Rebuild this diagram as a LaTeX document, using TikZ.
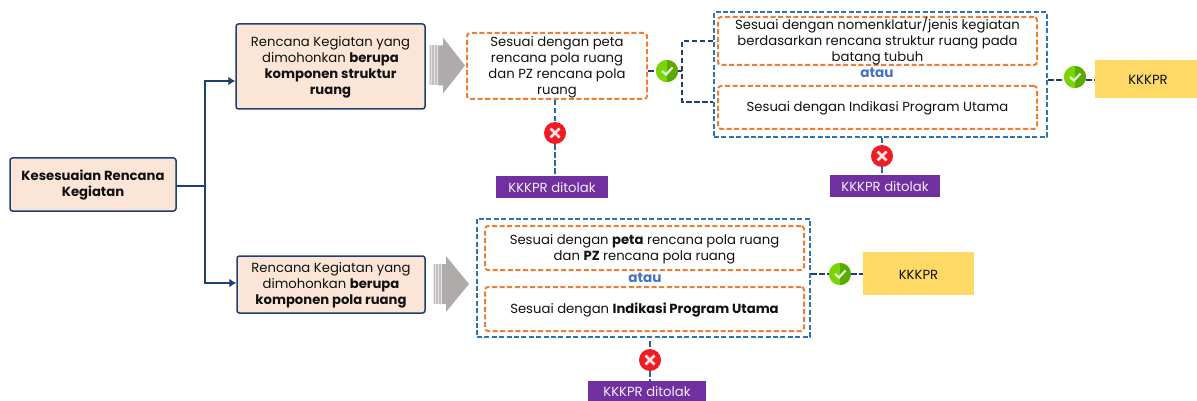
\documentclass[tikz,border=0pt]{standalone}
\usepackage{fontspec}
\setmainfont{Poppins}
\usetikzlibrary{arrows.meta}
\definecolor{navy}{HTML}{1F3F73}
\definecolor{peach}{HTML}{FBE5D6}
\definecolor{orangeD}{HTML}{ED7D31}
\definecolor{blueD}{HTML}{2E75B6}
\definecolor{blueL}{HTML}{4472C4}
\definecolor{purp}{HTML}{7030A0}
\definecolor{gold}{HTML}{FFD966}
\definecolor{grayA}{HTML}{AFABAB}
\definecolor{txt}{HTML}{111111}
\newcommand{\T}{\rule{0pt}{12pt}}
\tikzset{
  x=1pt,y=-1pt,
  base/.style={inner sep=0pt,align=center,text=txt,font=\fontsize{13.2}{16}\selectfont},
  solidbox/.style={base,draw=navy,line width=1.5pt,fill=peach,rounded corners=2.5pt},
  orangebox/.style={base,draw=orangeD,line width=2pt,dash pattern=on 5pt off 2.6pt,rounded corners=3pt},
  bluebox/.style={base,draw=blueD,line width=2pt,dash pattern=on 5pt off 2.4pt},
  rejectbox/.style={base,fill=purp,text=white!92!purp},
  okbox/.style={base,fill=gold},
  orword/.style={base,text=blueL,font=\fontsize{13.6}{16}\selectfont\bfseries},
  navyarrow/.style={draw=navy,line width=2pt,-{Latex[length=7pt,width=9pt]}},
  navyline/.style={draw=navy,line width=2pt},
  dashnavy/.style={draw=navy,line width=2pt,dash pattern=on 5.5pt off 2.5pt},
  dashblue/.style={draw=blueD!70!navy,line width=2pt,dash pattern=on 5.5pt off 2.5pt},
  okmark/.style={circle,minimum size=22pt,inner sep=0pt,fill=green!60!black!70!yellow,
    path picture={
      \fill[fill={rgb,255:red,92;green,170;blue,0}] (path picture bounding box.north east) rectangle (path picture bounding box.south);
      \fill[fill={rgb,255:red,122;green,214;blue,0}] (path picture bounding box.north west) rectangle (path picture bounding box.south);
      \draw[white!88!green,line width=2.2pt] ([xshift=-5pt,yshift=0pt]path picture bounding box.center) -- ([xshift=-1pt,yshift=-3.5pt]path picture bounding box.center) -- ([xshift=5.5pt,yshift=3.5pt]path picture bounding box.center);
    }},
  nomark/.style={circle,minimum size=22pt,inner sep=0pt,fill={rgb,255:red,240;green,28;blue,36},
    path picture={
      \draw[white!90!red,line width=2.6pt]
        ([xshift=-4.5pt,yshift=-4.5pt]path picture bounding box.center) -- ([xshift=4.5pt,yshift=4.5pt]path picture bounding box.center)
        ([xshift=-4.5pt,yshift=4.5pt]path picture bounding box.center) -- ([xshift=4.5pt,yshift=-4.5pt]path picture bounding box.center);
    }},
}
\newcommand{\grayarrow}[4]{%
  \fill[grayA!35] (#1,#4-20) rectangle (#1+9,#4+20);
  \foreach \sx in {0.6,3.4,6.2}{\fill[grayA!75] (#1+\sx,#4-20) rectangle (#1+\sx+1.4,#4+20);}
  \fill[grayA] (#1+9,#4-20) -- (#2,#4-20) -- (#2,#4-28) -- (#3,#4) -- (#2,#4+28) -- (#2,#4+20) -- (#1+9,#4+20) -- cycle;
}
\begin{document}
\begin{tikzpicture}
\useasboundingbox (0,0) rectangle (1197,401);

% gray arrows
\grayarrow{429}{443}{465}{65.5}
\grayarrow{433}{446}{469}{284}

% left column
\node[solidbox,minimum width=166pt,minimum height=53pt] (root) at (93,184.5) {\T\textbf{Kesesuaian Rencana}\\\textbf{Kegiatan}};
\node[solidbox,minimum width=189pt,minimum height=85pt] (top) at (330.5,66.5) {\T Rencana Kegiatan yang\\dimohonkan \textbf{berupa}\\\textbf{komponen struktur}\\\textbf{ruang}};
\node[solidbox,minimum width=188pt,minimum height=57pt] (bot) at (331,284.5) {\T Rencana Kegiatan yang\\dimohonkan \textbf{berupa}\\\textbf{komponen pola ruang}};

\coordinate (fork) at (205,186);
\coordinate (ftop) at (205,81);
\coordinate (fbot) at (205,283);
\coordinate (ttop) at (top.west |- ftop);
\coordinate (tbot) at (bot.west |- fbot);
\draw[navyline] (root.east |- fork) -- (fork);
\draw[navyarrow] (fork) -- (ftop) -- (ttop);
\draw[navyarrow] (fork) -- (fbot) -- (tbot);

% upper middle
\node[orangebox,minimum width=180pt,minimum height=66pt] (peta) at (557,66) {\T Sesuai dengan peta\\rencana pola ruang\\dan PZ rencana pola\\ruang};
\node[okmark] (ok1) at (667,71) {};
\node[nomark] (no1) at (555,133) {};
\node[rejectbox,minimum width=112pt,minimum height=22pt] (rej1) at (552,187) {\T KKKPR ditolak};

% upper right group
\node[bluebox,minimum width=333pt,minimum height=125pt] (grp1) at (880.5,74.5) {};
\node[orangebox,minimum width=319pt,minimum height=48pt] (a1) at (877.5,41) {Sesuai dengan nomenklatur/jenis kegiatan\\berdasarkan rencana struktur ruang pada\\batang tubuh};
\node[orangebox,minimum width=319pt,minimum height=43pt] (b1) at (877.5,107.5) {\T Sesuai dengan Indikasi Program Utama};
\node[orword] (or1) at (877,73) {atau};
\node[okmark] (ok2) at (1075,77) {};
\node[okbox,minimum width=102pt,minimum height=38pt] (res1) at (1146,79) {\hspace{4pt}\T KKKPR};
\node[nomark] (no2) at (882,156) {};
\node[rejectbox,minimum width=110pt,minimum height=22pt] (rej2) at (885,186) {\T KKKPR ditolak};

% lower group
\node[bluebox,minimum width=333pt,minimum height=118pt] (grp2) at (643.5,278) {};
\node[orangebox,minimum width=319pt,minimum height=44pt] (a2) at (644.5,248) {\T Sesuai dengan \textbf{peta} rencana pola ruang\\dan \textbf{PZ} rencana pola ruang};
\node[orangebox,minimum width=319pt,minimum height=44pt] (b2) at (644.5,309) {\T Sesuai dengan \textbf{Indikasi Program Utama}};
\node[orword] (or2) at (645,277.5) {atau};
\node[okmark] (ok3) at (840,274) {};
\node[okbox,minimum width=111pt,minimum height=43pt] (res2) at (918.5,273.5) {\T KKKPR};
\node[nomark] (no3) at (650,360) {};
\node[rejectbox,minimum width=118pt,minimum height=20pt] (rej3) at (647,391) {\T KKKPR ditolak};

% connectors
\draw[dashblue] (no1.north |- peta.south) -- (no1.north);
\draw[dashblue] (no1.south) -- (no1.south |- rej1.north);
\draw[dashblue] (no2.north |- grp1.south) -- (no2.north);
\draw[dashblue] (no2.south) -- (no2.south |- rej2.north);
\draw[dashblue] (no3.north |- grp2.south) ++(0,3) -- (no3.north);
\draw[dashblue] (no3.south) -- (no3.south |- rej3.north);
\draw[dashnavy] (ok1.west -| peta.east) -- (ok1.west);
\coordinate (brk) at (682,71);
\coordinate (brkA) at (682,41);
\coordinate (brkB) at (682,102);
\draw[dashnavy] (ok1.east) -- (brk);
\draw[dashnavy] (grp1.west |- brkA) -- (brkA) -- (brkB) -- (grp1.west |- brkB);
\coordinate (l2) at (1047,80);
\draw[dashnavy] (grp1.east |- l2) -- (ok2.west |- l2);
\draw[dashnavy] (ok2.east |- l2) -- (res1.west |- l2);
\draw[dashnavy] (grp2.east |- ok3) -- (ok3.west);
\draw[dashnavy] (ok3.east) -- (res2.west |- ok3);
\end{tikzpicture}
\end{document}
